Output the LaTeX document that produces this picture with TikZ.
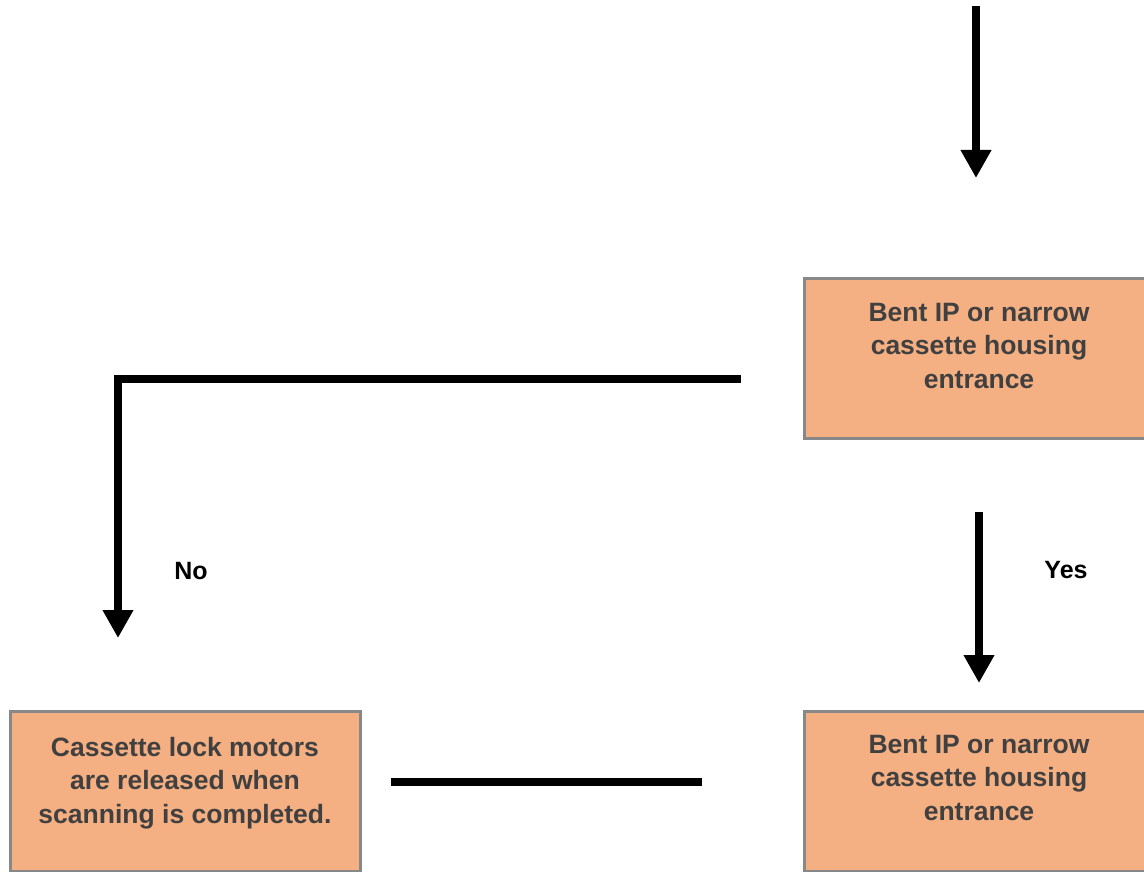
\documentclass[tikz,border=0pt]{standalone}
\usepackage{fontspec}
\setmainfont{Liberation Sans}
\usetikzlibrary{positioning,arrows.meta}
\definecolor{boxfill}{RGB}{244,175,130}
\definecolor{boxline}{RGB}{136,136,136}
\definecolor{boxtext}{RGB}{64,64,64}
\tikzset{
  procbox/.style={rectangle,draw=boxline,line width=3pt,fill=boxfill,minimum width=350pt,minimum height=160pt,inner sep=0pt},
  boxtxt/.style={align=center,text=boxtext,font=\fontsize{26.5}{33.5}\selectfont\bfseries},
  flowlab/.style={font=\fontsize{25}{30}\selectfont\bfseries},
  flow/.style={line width=8pt,-{Triangle[width=29pt,length=28pt]}},
  plain/.style={line width=8pt}
}
\begin{document}
\begin{tikzpicture}[x=1pt,y=-1pt]
  \useasboundingbox (0,0) rectangle (1144,872);
  \clip (0,0) rectangle (1144,872);
  % boxes
  \node[procbox] (bentA) at (979,358) {};
  \node[boxtxt] (bentAtxt) at (979,346) {Bent IP or narrow\\cassette housing\\entrance};
  \node[procbox] (bentB) at (979,791) {};
  \node[boxtxt] (bentBtxt) at (979,778) {Bent IP or narrow\\cassette housing\\entrance};
  \node[procbox] (release) at (185,791) {};
  \node[boxtxt] (releasetxt) at (185,783) {Cassette lock motors\\are released when\\scanning is completed.};
  % connector ends
  \coordinate (inS) at (976,6);
  \coordinate (inE) at (976,178);
  \coordinate (noS) at (741,379);
  \coordinate (noC) at (118,379);
  \coordinate (noE) at (118,638);
  \coordinate (yesS) at (979,512);
  \coordinate (yesE) at (979,683);
  \coordinate (linkS) at (391,782);
  \coordinate (linkE) at (702,782);
  % connectors
  \draw[flow] (inS) -- (inE);
  \draw[flow] (noS) -- (noC) -- (noE);
  \draw[flow] (yesS) -- (yesE);
  \draw[plain] (linkS) -- (linkE);
  \node[flowlab] (nolab) at (191,571) {No};
  \node[flowlab] (yeslab) at (1066,570) {Yes};
\end{tikzpicture}
\end{document}
